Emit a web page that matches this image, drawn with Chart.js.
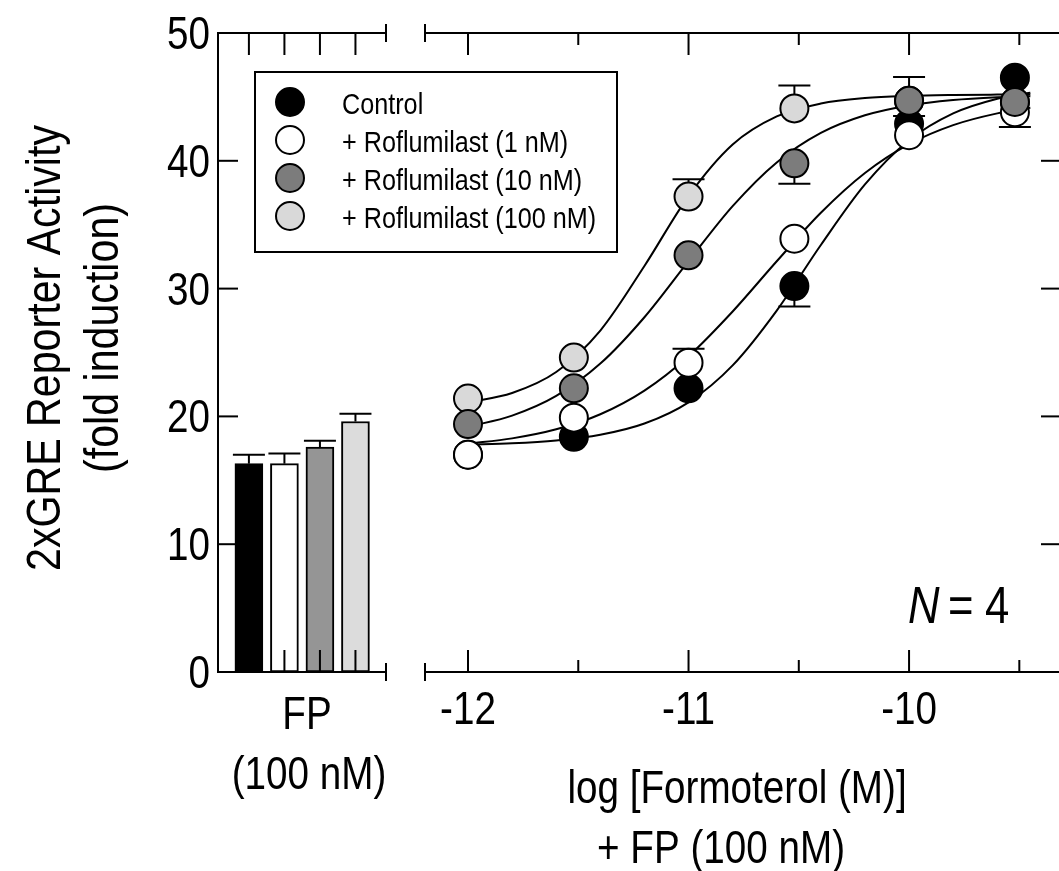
<!DOCTYPE html>
<html>
<head>
<meta charset="utf-8">
<script src="https://cdn.jsdelivr.net/npm/chart.js@4.4.1/dist/chart.umd.min.js"></script>
<style>
html, body { margin: 0; padding: 0; background: #fff; overflow: hidden; }
#wrap { position: relative; width: 1059px; height: 871px; overflow: hidden; background: #fff; }
#wrap canvas { position: absolute; left: 0; top: 0; }
</style>
</head>
<body>
<div id="wrap">
  <canvas id="curves" width="1080" height="871"></canvas>
  <canvas id="bars" width="1080" height="871"></canvas>
</div>
<script>
// FP (100 nM) alone, one bar per group
const groups = ['Control', '+ Roflumilast (1 nM)', '+ Roflumilast (10 nM)', '+ Roflumilast (100 nM)'];
const barValues = [16.3, 16.3, 17.6, 19.6];
const barErrors = [0.7, 0.8, 0.5, 0.6];

// log [formoterol] of the points (3e-x doses sit at -x + 0.48)
const logConc = [-12, -11.52, -11, -10.52, -10, -9.52];
const control = [17.0, 18.4, 22.2, 30.2, 42.9, 46.5];
const rof1 = [17.0, 19.9, 24.2, 33.9, 42.0, 43.8];
const rof10 = [19.4, 22.2, 32.6, 39.8, 44.7, 44.6];
const rof100 = [21.4, 24.6, 37.2, 44.1, 44.7, 44.6];

// SEM bars as printed: + drawn above the point, - below, 0 not visible
const controlErr = [0, 0, 0, -1.6, 0, 0];
const rof1Err = [0, 0, 1.1, 0, 1.5, -1.15];
const rof10Err = [0, 0, 0, -1.6, 1.85, 0];
const rof100Err = [0, 0, 1.35, 1.8, 0, 0];

// fitted curves
const fitX = [-12, -11.8, -11.6, -11.4, -11.2, -11, -10.8, -10.6, -10.4, -10.2, -10, -9.8, -9.6, -9.45];
const controlFit = [17.80, 17.90, 18.12, 18.56, 19.44, 21.10, 23.99, 28.28, 33.41, 38.15, 41.61, 43.71, 44.86, 45.33];
const rof1Fit = [17.86, 18.28, 18.99, 20.17, 22.02, 24.71, 28.21, 32.14, 35.93, 39.04, 41.30, 42.79, 43.71, 44.15];
const rof10Fit = [19.19, 20.06, 21.60, 24.13, 27.76, 32.15, 36.45, 39.87, 42.18, 43.56, 44.33, 44.75, 44.97, 45.06];
const rof100Fit = [21.10, 21.83, 23.47, 26.72, 31.77, 37.24, 41.27, 43.47, 44.48, 44.91, 45.08, 45.15, 45.18, 45.19];

const yTicks = [0, 10, 20, 30, 40, 50];
const xTicks = [-12, -11, -10];
const xMinorTicks = [-11.5, -10.5, -9.5];

const FONT = '"Liberation Sans", Arial, sans-serif';
Chart.defaults.font.family = FONT;
Chart.defaults.color = '#000';

const pointFills = ['#000000', '#ffffff', '#7c7c7c', '#d9d9d9'];
const barFills = ['#000000', '#ffffff', '#959595', '#dcdcdc'];

// the original lettering is a narrow sans, so squeeze Liberation Sans a bit
const SX = 0.84;

function line(ctx, x1, y1, x2, y2) {
    ctx.beginPath();
    ctx.moveTo(x1, y1);
    ctx.lineTo(x2, y2);
    ctx.stroke();
}

function say(ctx, str, x, y, size, align, style, rot) {
    ctx.save();
    ctx.font = (style || '') + ' ' + size + 'px ' + FONT;
    ctx.textAlign = align || 'center';
    ctx.textBaseline = 'alphabetic';
    ctx.fillStyle = '#000';
    ctx.translate(x, y);
    if (rot) ctx.rotate(rot);
    ctx.scale(SX, 1);
    ctx.fillText(str, 0, 0);
    ctx.restore();
}

// left panel: axes box, error bars, labels
const barFrame = {
    id: 'barFrame',
    afterDatasetsDraw(chart) {
        const {ctx, chartArea: a, scales: {x, y}} = chart;
        ctx.save();
        ctx.strokeStyle = '#000';
        ctx.lineWidth = 2;

        barValues.forEach((v, i) => {
            let px = x.getPixelForValue(i + 1);
            let top = y.getPixelForValue(v);
            let cap = y.getPixelForValue(v + barErrors[i]);
            line(ctx, px, top, px, cap);
            line(ctx, px - 16, cap, px + 16, cap);
        });

        line(ctx, a.left, a.top - 1, a.left, a.bottom + 1);
        line(ctx, a.left, a.top, a.right, a.top);
        line(ctx, a.left, a.bottom, a.right, a.bottom);
        line(ctx, a.right, a.top - 9, a.right, a.top + 9);
        line(ctx, a.right, a.bottom - 9, a.right, a.bottom + 9);
        yTicks.forEach(t => {
            let py = y.getPixelForValue(t);
            line(ctx, a.left, py, a.left + 20, py);
            say(ctx, String(t), a.left - 8, py + 16, 46, 'right');
        });
        barValues.forEach((v, i) => {
            let px = x.getPixelForValue(i + 1);
            line(ctx, px, a.top, px, a.top + 22);
            line(ctx, px, a.bottom, px, a.bottom - 22);
        });
        ctx.restore();

        say(ctx, 'FP', 307, 729, 46);
        say(ctx, '(100 nM)', 309, 789, 46);
        say(ctx, '2xGRE Reporter Activity', 60, 348, 49, 'center', '', -Math.PI / 2);
        say(ctx, '(fold induction)', 118, 338, 49, 'center', '', -Math.PI / 2);
    }
};

// right panel: error bars per dataset, axes box, legend, notes
const curveFrame = {
    id: 'curveFrame',
    afterDatasetDraw(chart, args) {
        const ds = chart.data.datasets[args.index];
        if (!ds.errs) return;
        const {ctx, scales: {y}} = chart;
        ctx.save();
        ctx.strokeStyle = '#000';
        ctx.lineWidth = 2;
        args.meta.data.forEach((pt, i) => {
            let e = ds.errs[i];
            if (!e) return;
            let cap = y.getPixelForValue(ds.data[i].y + e);
            let edge = pt.y + (e > 0 ? -14 : 14);
            line(ctx, pt.x, edge, pt.x, cap);
            line(ctx, pt.x - 16, cap, pt.x + 16, cap);
        });
        ctx.restore();
    },
    afterDraw(chart) {
        const {ctx, chartArea: a, scales: {x, y}} = chart;
        ctx.save();
        ctx.strokeStyle = '#000';
        ctx.lineWidth = 2;

        line(ctx, a.left, a.top, a.right, a.top);
        line(ctx, a.left, a.bottom, a.right, a.bottom);
        line(ctx, a.right, a.top, a.right, a.bottom);
        line(ctx, a.left, a.top - 9, a.left, a.top + 9);
        line(ctx, a.left, a.bottom - 9, a.left, a.bottom + 9);
        xTicks.forEach(t => {
            let px = x.getPixelForValue(t);
            line(ctx, px, a.top, px, a.top + 22);
            line(ctx, px, a.bottom, px, a.bottom - 22);
            say(ctx, String(t), px, 724, 46);
        });
        xMinorTicks.forEach(t => {
            let px = x.getPixelForValue(t);
            line(ctx, px, a.top, px, a.top + 12);
            line(ctx, px, a.bottom, px, a.bottom - 12);
        });
        yTicks.forEach(t => {
            let py = y.getPixelForValue(t);
            line(ctx, a.right, py, a.right - 20, py);
        });

        // legend
        ctx.strokeRect(255, 72, 362, 180);
        chart.data.datasets.filter(d => d.errs).sort((p, q) => p.legendRank - q.legendRank).forEach((d, i) => {
            let cy = 102 + i * 38;
            ctx.beginPath();
            ctx.arc(290, cy, 14, 0, Math.PI * 2);
            ctx.fillStyle = d.pointBackgroundColor;
            ctx.fill();
            ctx.stroke();
            say(ctx, d.label, 342, cy + 12, 30, 'left');
        });
        ctx.restore();

        say(ctx, 'N', 908, 623, 52, 'left', 'italic');
        say(ctx, '=', 948, 623, 52, 'left');
        say(ctx, '4', 985, 623, 52, 'left');

        say(ctx, 'log [Formoterol (M)]', 737, 803, 46);
        say(ctx, '+ FP (100 nM)', 721, 863, 46);
    }
};

new Chart(document.getElementById('bars'), {
    type: 'bar',
    data: {
        datasets: [{
            label: 'FP (100 nM)',
            data: barValues.map((v, i) => ({x: i + 1, y: v})),
            backgroundColor: barFills,
            borderColor: '#000',
            borderWidth: 2,
            borderSkipped: false,
            barThickness: 28
        }]
    },
    options: {
        responsive: false,
        animation: false,
        devicePixelRatio: 1,
        layout: {padding: {top: 33, right: 1080 - 386, bottom: 199, left: 0}},
        plugins: {legend: {display: false}, tooltip: {enabled: false}},
        scales: {
            x: {type: 'linear', min: 0.13, max: 4.86, offset: false, grid: {offset: false}, display: false},
            y: {
                min: 0, max: 50,
                grid: {display: false, drawTicks: false},
                border: {display: false},
                ticks: {display: false, stepSize: 10},
                afterFit(s) { s.width = 218; }
            }
        }
    },
    plugins: [barFrame]
});

function pointSet(i, values, errs, order) {
    return {
        label: groups[i],
        data: logConc.map((c, k) => ({x: c, y: values[k]})),
        pointRadius: 14,
        pointBackgroundColor: pointFills[i],
        pointBorderColor: '#000',
        pointBorderWidth: 2,
        showLine: false,
        errs: errs,
        legendRank: i,
        order: order
    };
}

function fitSet(values) {
    return {
        label: 'fit',
        data: fitX.map((c, k) => ({x: c, y: values[k]})),
        showLine: true,
        pointRadius: 0,
        borderColor: '#000',
        borderWidth: 2,
        cubicInterpolationMode: 'monotone',
        order: 10
    };
}

new Chart(document.getElementById('curves'), {
    type: 'scatter',
    data: {
        datasets: [
            fitSet(controlFit), fitSet(rof1Fit), fitSet(rof10Fit), fitSet(rof100Fit),
            pointSet(0, control, controlErr, 3),
            pointSet(1, rof1, rof1Err, 2),
            pointSet(2, rof10, rof10Err, 1),
            pointSet(3, rof100, rof100Err, 4)
        ]
    },
    options: {
        responsive: false,
        animation: false,
        devicePixelRatio: 1,
        layout: {padding: {left: 425, top: 33, right: 1080 - 1061, bottom: 0}},
        plugins: {legend: {display: false}, tooltip: {enabled: false}},
        scales: {
            x: {
                type: 'linear', min: -12.195, max: -9.311,
                grid: {display: false, drawTicks: false},
                border: {display: false},
                ticks: {display: false},
                afterBuildTicks(s) { s.ticks = xTicks.map(v => ({value: v})); },
                afterFit(s) { s.height = 199; }
            },
            y: {min: 0, max: 50, display: false}
        }
    },
    plugins: [curveFrame]
});
</script>
</body>
</html>
